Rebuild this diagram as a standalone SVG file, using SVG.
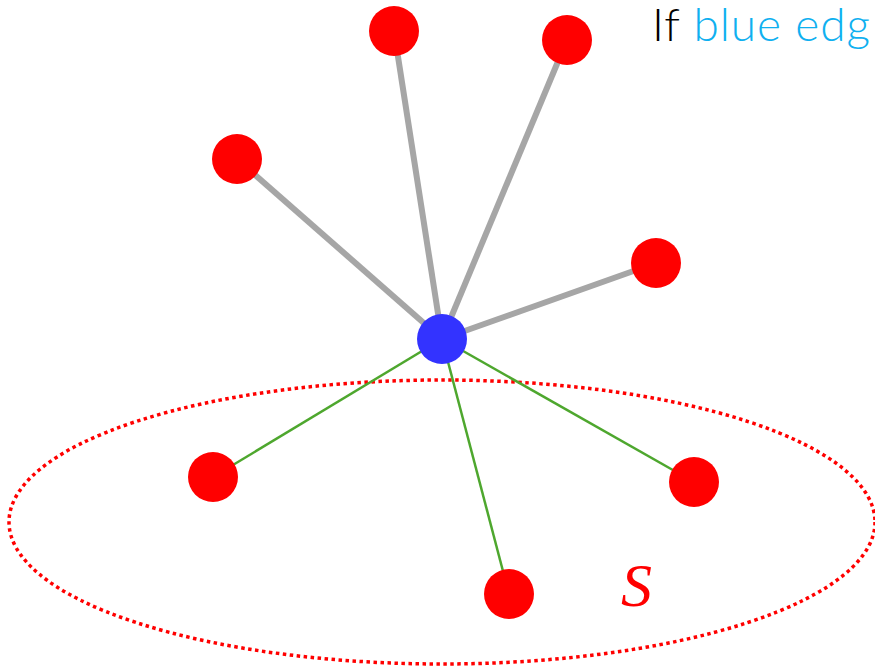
<svg xmlns="http://www.w3.org/2000/svg" width="875" height="671" viewBox="0 0 875 671">
<style>
.g{stroke:#a6a6a6;stroke-width:6;fill:none}
.gr{stroke:#4ea72e;stroke-width:2.5;fill:none}
.r{fill:#ff0000}
.b{fill:#3333ff}
</style>
<rect width="875" height="671" fill="#fff"/>
<ellipse cx="442" cy="522" rx="433" ry="142" fill="none" stroke="#ff0000" stroke-width="3.5" stroke-dasharray="3.5 3.5"/>
<g id="connectors">
<line class="g" x1="442" y1="339" x2="394" y2="31"/>
<line class="g" x1="442" y1="339" x2="567" y2="40"/>
<line class="g" x1="442" y1="339" x2="237" y2="159"/>
<line class="g" x1="442" y1="339" x2="656" y2="263"/>
<line class="gr" x1="442" y1="339" x2="213" y2="477"/>
<line class="gr" x1="442" y1="339" x2="694" y2="482"/>
<line class="gr" x1="442" y1="339" x2="509" y2="594"/>
</g>
<g id="n1"><circle class="r" cx="394" cy="31" r="25"/></g>
<g id="n2"><circle class="r" cx="567" cy="40" r="25"/></g>
<g id="n3"><circle class="r" cx="237" cy="159" r="25"/></g>
<g id="n4"><circle class="r" cx="656" cy="263" r="25"/></g>
<g id="n5"><circle class="r" cx="213" cy="477" r="25"/></g>
<g id="n6"><circle class="r" cx="694" cy="482" r="25"/></g>
<g id="n7"><circle class="r" cx="509" cy="594" r="25"/></g>
<g id="center"><circle class="b" cx="442" cy="339" r="25"/></g>
<text x="652" y="41" font-family="Lato, 'Open Sans', sans-serif" font-weight="300" font-size="46" textLength="218" lengthAdjust="spacing"><tspan fill="#000">If </tspan><tspan fill="#0fb0f0">blue edg</tspan></text>
<text x="621" y="606" font-family="'Liberation Serif', serif" font-style="italic" font-size="62" fill="#ff0000">S</text>
</svg>
